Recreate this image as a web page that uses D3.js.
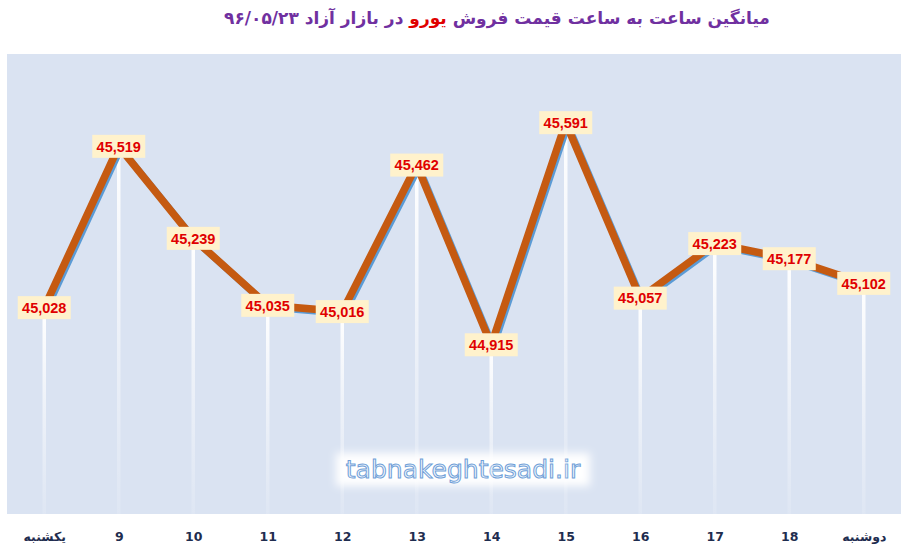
<!DOCTYPE html>
<html>
<head>
<meta charset="utf-8">
<title>EUR hourly</title>
<script src="https://cdn.jsdelivr.net/npm/d3@7"></script>
<style>
  body { margin: 0; background: #fff; }
</style>
</head>
<body>
<div id="chart"></div>
<script>
// data
var hours = ["یکشنبه", "9", "10", "11", "12", "13", "14", "15", "16", "17", "18", "دوشنبه"];
var prices = [45028, 45519, 45239, 45035, 45016, 45462, 44915, 45591, 45057, 45223, 45177, 45102];
var yDomain = [44400, 45800];

var width = 909, height = 547;
var plot = {left: 7, right: 901, top: 54, bottom: 514};

var svg = d3.select("#chart").append("svg")
    .attr("width", width)
    .attr("height", height);

var defs = svg.append("defs");
var grad = defs.append("linearGradient")
    .attr("id", "drop")
    .attr("x1", 0).attr("y1", 0).attr("x2", 0).attr("y2", 1);
grad.append("stop").attr("offset", "0%").attr("stop-color", "#fff").attr("stop-opacity", 1);
grad.append("stop").attr("offset", "45%").attr("stop-color", "#fff").attr("stop-opacity", 0.55);
grad.append("stop").attr("offset", "100%").attr("stop-color", "#fff").attr("stop-opacity", 0.12);

var glow = defs.append("filter").attr("id", "glow")
    .attr("x", "-20%").attr("y", "-50%").attr("width", "140%").attr("height", "200%");
glow.append("feGaussianBlur").attr("stdDeviation", 4);

var x = d3.scalePoint()
    .domain(hours)
    .range([plot.left, plot.right])
    .padding(0.5);

var y = d3.scaleLinear()
    .domain(yDomain)
    .range([plot.bottom, plot.top]);

// plot area
svg.append("rect")
    .attr("x", plot.left).attr("y", plot.top)
    .attr("width", plot.right - plot.left)
    .attr("height", plot.bottom - plot.top)
    .attr("fill", "#dae3f2");

// title (rtl, with the currency in red)
var title = svg.append("text")
    .attr("x", 497).attr("y", 24)
    .attr("text-anchor", "middle")
    .attr("direction", "rtl")
    .style("font-family", "DejaVu Sans, sans-serif")
    .style("font-weight", "bold")
    .style("font-size", "17px")
    .attr("fill", "#7030a0");
title.append("tspan").text("میانگین ساعت به ساعت قیمت فروش ");
title.append("tspan").attr("fill", "#e00000").text("یورو");
title.append("tspan").text(" در بازار آزاد ۹۶/۰۵/۲۳");

// watermark
var wm = svg.append("g");
wm.append("rect")
    .attr("x", 336).attr("y", 453)
    .attr("width", 254).attr("height", 33)
    .attr("fill", "#fff")
    .attr("filter", "url(#glow)");
wm.append("text")
    .attr("x", 463).attr("y", 478)
    .attr("text-anchor", "middle")
    .style("font-family", "DejaVu Sans, sans-serif")
    .style("font-size", "25px")
    .attr("fill", "#eef4fb")
    .attr("stroke", "#6f9fd8")
    .attr("stroke-width", 1)
    .text("tabnakeghtesadi.ir");

// drop lines
svg.selectAll(".drop")
    .data(prices)
    .enter().append("rect")
    .attr("class", "drop")
    .attr("x", function(d, i) { return x(hours[i]) - 1.75; })
    .attr("y", function(d) { return y(d); })
    .attr("width", 3.5)
    .attr("height", function(d) { return plot.bottom - y(d); })
    .attr("fill", "url(#drop)");

var line = d3.line()
    .x(function(d, i) { return x(hours[i]); })
    .y(function(d) { return y(d); });

// blue shadow then brown line
svg.append("path")
    .datum(prices)
    .attr("d", line)
    .attr("transform", "translate(2,2)")
    .attr("fill", "none")
    .attr("stroke", "#5b9bd5")
    .attr("stroke-width", 7)
    .attr("stroke-linejoin", "round");

svg.append("path")
    .datum(prices)
    .attr("d", line)
    .attr("fill", "none")
    .attr("stroke", "#c55a11")
    .attr("stroke-width", 7.5)
    .attr("stroke-linejoin", "miter");

// data labels
var lab = svg.selectAll(".lab")
    .data(prices)
    .enter().append("g")
    .attr("class", "lab")
    .attr("transform", function(d, i) { return "translate(" + x(hours[i]) + "," + y(d) + ")"; });

lab.append("rect")
    .attr("x", -26.5).attr("y", -11.5)
    .attr("width", 53).attr("height", 23)
    .attr("fill", "#fff2cc");

lab.append("text")
    .attr("text-anchor", "middle")
    .attr("dy", "0.36em")
    .style("font-family", "Liberation Sans, Arial, sans-serif")
    .style("font-weight", "bold")
    .style("font-size", "14.5px")
    .attr("fill", "#e00000")
    .text(function(d) { return d3.format(",")(d); });

// x axis labels
var xAxis = svg.append("g")
    .attr("transform", "translate(0," + plot.bottom + ")")
    .call(d3.axisBottom(x).tickSize(0).tickPadding(18));
xAxis.select(".domain").remove();
xAxis.selectAll("text")
    .style("font-family", "DejaVu Sans, sans-serif")
    .style("font-weight", "bold")
    .style("font-size", "12.5px")
    .attr("fill", "#1f2d4f");
</script>
</body>
</html>
